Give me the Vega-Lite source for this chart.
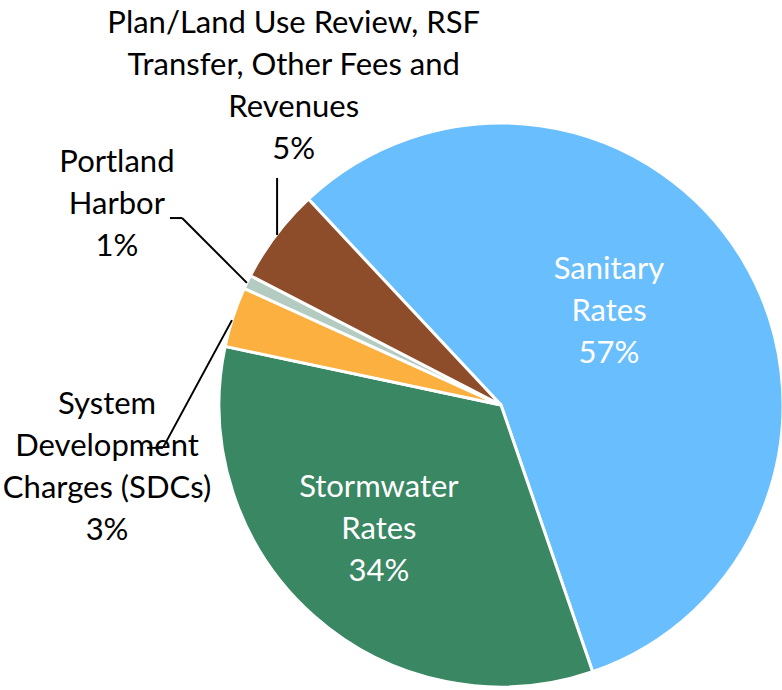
{
  "$schema": "https://vega.github.io/schema/vega-lite/v6.json",
  "width": 782,
  "height": 690,
  "padding": 0,
  "autosize": {"type": "none"},
  "background": "white",
  "config": {"view": {"stroke": null}},
  "datasets": {
    "slices": [
      {"source": "Sanitary Rates", "share": 56.7, "ord": 1, "cx": 0, "cy": 0},
      {"source": "Stormwater Rates", "share": 33.6, "ord": 2, "cx": 0, "cy": 0},
      {"source": "System Development Charges (SDCs)", "share": 3.45, "ord": 3, "cx": 0, "cy": 0},
      {"source": "Portland Harbor", "share": 0.8, "ord": 4, "cx": 0, "cy": 0},
      {"source": "Plan/Land Use Review, RSF Transfer, Other Fees and Revenues", "share": 5.45, "ord": 5, "cx": 0, "cy": 0}
    ],
    "labels": [
      {"label": "Sanitary\nRates\n57%", "lx": 0.383, "ly": 0.479, "inside": "yes"},
      {"label": "Stormwater\nRates\n34%", "lx": -0.433, "ly": -0.294, "inside": "yes"},
      {"label": "Plan/Land Use Review, RSF\nTransfer, Other Fees and\nRevenues\n5%", "lx": -0.735, "ly": 1.352, "inside": "no"},
      {"label": "Portland\nHarbor\n1%", "lx": -1.362, "ly": 0.858, "inside": "no"},
      {"label": "System\nDevelopment\nCharges (SDCs)\n3%", "lx": -1.397, "ly": 0.0, "inside": "no"}
    ],
    "leaders": [
      {"x1": -0.794, "y1": 0.805, "x2": -0.794, "y2": 0.603},
      {"x1": -1.174, "y1": 0.663, "x2": -1.131, "y2": 0.663},
      {"x1": -1.131, "y1": 0.663, "x2": -0.901, "y2": 0.433},
      {"x1": -1.255, "y1": -0.152, "x2": -1.199, "y2": -0.152},
      {"x1": -1.199, "y1": -0.152, "x2": -0.954, "y2": 0.301}
    ]
  },
  "layer": [
    {
      "data": {"name": "slices"},
      "mark": {"type": "arc", "outerRadius": 282, "stroke": "white", "strokeWidth": 3},
      "encoding": {
        "x": {"field": "cx", "type": "quantitative", "scale": {"domain": [-1.7766, 0.9965], "nice": false, "zero": false}, "axis": null},
        "y": {"field": "cy", "type": "quantitative", "scale": {"domain": [-1.0106, 1.4362], "nice": false, "zero": false}, "axis": null},
        "theta": {"field": "share", "type": "quantitative", "stack": true, "scale": {"range": [-0.752, 5.5312]}},
        "order": {"field": "ord", "type": "quantitative"},
        "color": {
          "field": "source", "type": "nominal", "legend": null,
          "scale": {
            "domain": ["Sanitary Rates", "Stormwater Rates", "System Development Charges (SDCs)", "Portland Harbor", "Plan/Land Use Review, RSF Transfer, Other Fees and Revenues"],
            "range": ["#69BEFE", "#3A8763", "#FCB040", "#B4CBC2", "#8E4D2A"]
          }
        }
      }
    },
    {
      "data": {"name": "leaders"},
      "mark": {"type": "rule", "color": "black", "strokeWidth": 2},
      "encoding": {
        "x": {"field": "x1", "type": "quantitative"},
        "y": {"field": "y1", "type": "quantitative"},
        "x2": {"field": "x2"},
        "y2": {"field": "y2"}
      }
    },
    {
      "data": {"name": "labels"},
      "mark": {"type": "text", "font": "Lato", "fontSize": 31, "lineBreak": "\n", "lineHeight": 42, "align": "center", "baseline": "middle"},
      "encoding": {
        "x": {"field": "lx", "type": "quantitative"},
        "y": {"field": "ly", "type": "quantitative"},
        "text": {"field": "label"},
        "color": {"condition": {"test": "datum.inside === 'yes'", "value": "white"}, "value": "black"}
      }
    }
  ]
}
